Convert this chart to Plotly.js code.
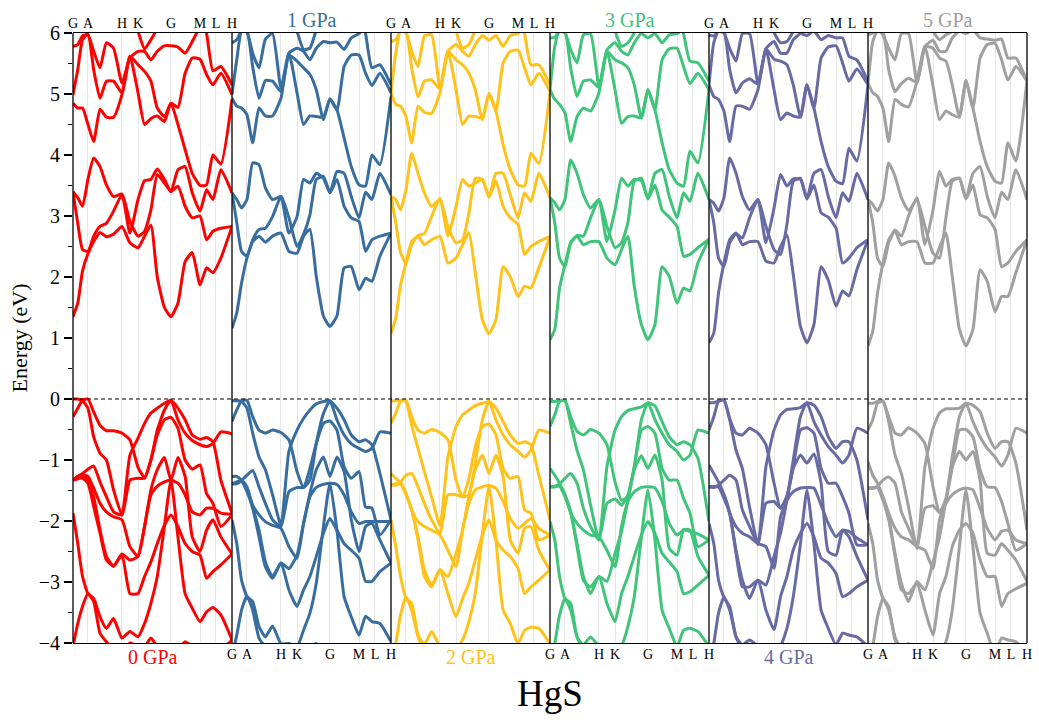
<!DOCTYPE html>
<html><head><meta charset="utf-8">
<script src="https://cdn.plot.ly/plotly-3.0.1.min.js"></script>
<style>html,body{margin:0;padding:0;background:#fff}</style></head>
<body><div id="chart"></div>
<script>
const kPath = [0,3,6,9.4,13,17,21,25.5,30.8,35.8,40.9,45,49,53,57.5,61.6,66,70.5,75,79.9,84,88,93,100];
const symK = [0,9.4,30.8,40.9,61.6,79.9,89.9,100];
const symLabels = ['G','A','H','K','G','M','L','H'];
const pressures = ['0 GPa','1 GPa','2 GPa','3 GPa','4 GPa','5 GPa'];
const colours = ['#ff0000','#386d9f','#ffc21a','#3fc47a','#686ba3','#a0a0a0'];
const off = 6.5, low = -4.3;

const c0 = [
[1.35,1.57,2.1,2.38,2.58,2.73,2.66,2.7,2.83,2.56,2.48,2.67,2.85,2.0,1.5,1.35,1.57,2.25,2.4,1.87,2.15,2.07,2.31,2.83],
[3.4,2.88,2.45,2.42,2.67,2.83,2.88,3.08,3.35,2.72,3.27,3.58,3.6,3.77,3.6,3.4,3.49,3.16,2.97,3.0,2.61,2.75,2.8,2.83],
[3.4,3.3,3.16,3.6,3.95,3.81,3.51,3.32,3.36,2.91,2.67,2.75,3.1,3.68,3.54,3.4,3.76,3.81,3.38,3.08,3.43,3.27,3.76,3.38],
[4.85,4.77,4.77,4.5,4.22,4.75,4.62,4.62,4.99,5.62,5.48,5.37,5.21,4.77,4.63,4.85,4.5,4.09,3.7,3.5,3.51,4.0,3.85,4.91],
[4.99,5.4,5.89,5.99,5.4,4.93,5.21,5.21,5.02,5.62,5.02,4.5,4.6,4.64,4.55,4.85,4.78,5.34,5.59,5.57,5.32,5.15,5.34,4.99],
[5.78,5.81,5.95,5.97,5.7,5.43,5.84,5.75,5.18,5.59,5.7,5.7,5.56,5.7,5.79,5.79,5.77,5.67,5.86,6.11,6.3,6.4,6.4,6.4],
[off,off,off,off,off,off,off,off,off,off,6.03,5.74,5.89,6.08,6.4,6.4,6.4,6.4,6.4,6.3,5.99,5.38,5.45,5.15]];
const v0 = [
[-0.0,-0.0,-0.03,-0.15,-0.62,-0.89,-1.0,-1.49,-1.9,-0.92,-0.64,-0.4,-0.23,-0.15,-0.07,-0.02,-0.15,-0.34,-0.59,-0.66,-0.63,-0.7,-1.33,-1.87],
[-0.29,-0.15,-0.02,0,-0.21,-0.43,-0.52,-0.52,-0.56,-0.67,-1.12,-1.29,-1.0,-0.51,-0.18,-0.02,-0.34,-0.56,-0.68,-0.75,-0.78,-0.73,-0.54,-0.57],
[-1.33,-1.27,-1.22,-1.15,-1.1,-1.36,-1.6,-1.85,-1.9,-1.33,-1.3,-1.3,-1.0,-0.59,-0.34,-0.3,-0.48,-1.0,-1.15,-1.08,-1.55,-1.71,-2.09,-1.9],
[-1.33,-1.31,-1.25,-1.27,-1.46,-1.71,-1.85,-1.93,-1.98,-2.42,-2.58,-2.09,-1.57,-1.43,-1.36,-1.33,-1.38,-1.57,-1.85,-1.9,-1.79,-1.79,-1.87,-1.89],
[-1.33,-1.27,-1.25,-1.33,-1.6,-2.15,-2.58,-2.74,-2.54,-2.64,-2.58,-2.09,-1.49,-1.16,-0.96,-1.33,-0.96,-1.27,-2.26,-2.5,-2.15,-1.98,-2.26,-2.54],
[-1.33,-1.3,-1.3,-1.38,-1.76,-2.2,-2.64,-2.74,-2.56,-3.19,-3.19,-2.91,-2.67,-2.37,-2.07,-1.9,-2.09,-2.37,-2.5,-2.56,-2.94,-2.83,-2.72,-2.54],
[-1.87,-2.37,-2.91,-3.19,-3.27,-3.57,-3.76,-3.6,-3.92,-3.81,-3.9,-3.68,-3.35,-2.91,-2.09,-1.33,-2.26,-3.19,-3.43,-3.65,-3.49,-3.42,-3.54,-3.95],
[-4.06,-3.68,-3.4,-3.19,-3.32,-3.84,-3.98,-4.11,-4.17,-4.0,-4.06,-4.06,-3.92,-4.06,-4.17,-4.17,-4.11,-3.98,-4.06,-4.17,-4.17,-4.11,-4.11,-3.95]];

const c1 = [
[1.16,1.41,1.9,2.31,2.58,2.67,2.57,2.67,2.72,2.42,2.39,2.67,2.78,2.01,1.36,1.19,1.36,2.15,2.17,1.79,1.98,1.93,2.34,2.72],
[3.38,2.89,2.42,2.34,2.61,2.78,2.8,2.99,3.32,2.72,2.99,3.6,3.54,3.7,3.62,3.38,3.6,3.16,2.97,2.91,2.42,2.61,2.67,2.72],
[3.38,3.27,3.13,3.27,3.87,3.84,3.46,3.27,3.32,2.97,2.5,2.7,3.02,3.6,3.65,3.38,3.73,3.7,3.32,2.97,3.39,3.27,3.7,3.35],
[4.93,4.8,4.77,4.66,4.2,4.77,4.64,4.64,4.93,5.64,5.54,5.43,5.32,5.07,4.58,4.92,4.74,4.28,3.81,3.51,3.49,4.0,3.84,4.96],
[4.99,5.56,6.03,6.03,5.45,4.93,5.22,5.21,5.04,5.67,5.02,4.5,4.64,4.63,4.62,4.92,4.74,5.45,5.64,5.64,5.34,5.14,5.34,5.02],
[5.84,5.89,6.03,6.01,5.67,5.43,5.9,5.99,5.1,5.67,5.75,5.7,5.56,5.75,5.86,5.84,5.85,5.73,5.92,5.99,6.11,6.22,6.22,6.22],
[off,off,off,off,off,off,off,off,off,off,6.03,5.73,5.75,6.05,6.4,6.4,6.4,6.4,6.4,6.4,5.99,5.43,5.48,5.15]];
const v1 = [
[-0.03,-0.03,-0.04,-0.15,-0.56,-0.95,-1.16,-1.57,-2.07,-0.86,-0.51,-0.32,-0.18,-0.08,-0.04,-0.03,-0.15,-0.34,-0.59,-0.7,-0.67,-0.75,-1.22,-1.98],
[-0.37,-0.18,-0.03,-0.02,-0.29,-0.51,-0.56,-0.51,-0.55,-0.67,-1.19,-1.45,-1.33,-0.73,-0.24,-0.03,-0.34,-0.59,-0.73,-0.81,-0.86,-0.81,-0.54,-0.56],
[-1.39,-1.38,-1.33,-1.25,-1.17,-1.44,-1.71,-1.98,-2.09,-1.52,-1.45,-1.45,-1.14,-0.73,-0.4,-0.36,-0.51,-1.11,-1.3,-1.19,-1.77,-1.79,-2.23,-1.98],
[-1.27,-1.27,-1.33,-1.46,-1.74,-1.9,-2.01,-2.07,-2.12,-2.42,-2.61,-2.04,-1.6,-1.45,-1.4,-1.38,-1.4,-1.57,-1.85,-2.04,-2.01,-2.01,-2.01,-2.01],
[-1.39,-1.36,-1.33,-1.44,-1.77,-2.15,-2.67,-2.91,-2.69,-2.78,-2.56,-2.04,-1.55,-1.16,-0.95,-1.27,-0.95,-1.19,-1.98,-2.5,-2.09,-2.04,-2.31,-2.69],
[-1.39,-1.39,-1.35,-1.52,-1.79,-2.26,-2.75,-2.94,-2.69,-3.13,-3.4,-3.13,-2.91,-2.58,-2.2,-1.96,-2.15,-2.37,-2.48,-2.61,-2.99,-2.99,-2.83,-2.69],
[-1.98,-2.37,-2.97,-3.24,-3.32,-3.73,-3.9,-3.72,-4.01,-4.01,-4.06,-3.79,-3.51,-3.02,-2.09,-1.38,-2.15,-3.24,-3.57,-3.87,-3.56,-3.65,-3.68,-3.98],
[-4.22,-3.87,-3.46,-3.23,-3.46,-3.92,-4.06,-4.17,-4.06,-4.01,-4.11,-4.11,-4.06,-4.01,-4.17,-4.22,-4.22,-4.11,-4.11,-4.11,-4.11,-4.11,-4.11,-4.06]];

const c2 = [
[1.07,1.33,1.87,2.23,2.58,2.67,2.53,2.61,2.67,2.23,2.31,2.53,2.73,2.07,1.3,1.07,1.3,2.17,2.01,1.68,1.85,1.82,2.15,2.66],
[3.32,2.89,2.4,2.23,2.53,2.68,2.71,2.99,3.29,2.67,3.16,3.6,3.49,3.54,3.6,3.31,3.57,3.16,2.97,2.86,2.37,2.5,2.58,2.66],
[3.32,3.27,3.1,3.43,4.03,3.7,3.38,3.16,3.27,2.83,2.56,2.61,3.05,3.62,3.6,3.31,3.7,3.7,3.35,2.97,3.38,3.24,3.7,3.3],
[5.02,4.83,4.8,4.63,4.2,4.8,4.7,4.68,5.02,5.7,5.56,5.48,5.34,5.07,4.58,5.01,4.72,4.17,3.76,3.51,3.49,4.03,3.86,5.02],
[5.02,5.67,6.05,6.03,5.43,4.95,5.21,5.23,5.08,5.7,5.07,4.5,4.64,4.63,4.61,5.01,4.72,5.51,5.7,5.72,5.43,5.15,5.34,5.04],
[5.86,5.89,6.03,6.0,5.7,5.45,5.95,5.97,5.1,5.7,5.81,5.7,5.62,5.81,5.96,5.88,5.96,5.78,5.96,5.99,6.16,6.22,6.22,6.22],
[off,off,off,off,off,off,off,off,off,off,6.03,5.75,5.81,6.05,6.4,6.4,6.4,6.4,6.4,6.4,5.99,5.48,5.48,5.15]];
const v2 = [
[-0.03,-0.03,-0.02,-0.04,-0.43,-0.81,-1.19,-1.6,-2.07,-0.95,-0.45,-0.26,-0.18,-0.11,-0.07,-0.04,-0.15,-0.37,-0.59,-0.73,-0.7,-0.75,-1.25,-1.98],
[-0.4,-0.23,-0.04,-0.02,-0.29,-0.51,-0.56,-0.5,-0.55,-0.67,-1.33,-1.6,-1.57,-1.05,-0.34,-0.04,-0.34,-0.59,-0.75,-0.86,-0.95,-0.84,-0.51,-0.56],
[-1.41,-1.41,-1.36,-1.25,-1.22,-1.44,-1.71,-1.98,-2.2,-1.57,-1.57,-1.6,-1.3,-0.78,-0.45,-0.41,-0.59,-1.14,-1.3,-1.27,-1.82,-1.87,-2.31,-2.23],
[-1.22,-1.3,-1.37,-1.55,-1.82,-2.01,-2.09,-2.15,-2.23,-2.48,-2.75,-2.15,-1.71,-1.49,-1.44,-1.42,-1.46,-1.68,-1.96,-2.12,-2.04,-1.96,-2.12,-2.23],
[-1.41,-1.39,-1.38,-1.55,-1.82,-2.26,-2.8,-3.05,-2.8,-2.91,-2.53,-2.15,-1.6,-1.16,-0.92,-1.22,-0.92,-1.27,-2.31,-2.53,-2.12,-2.09,-2.48,-2.81],
[-1.41,-1.41,-1.39,-1.57,-1.82,-2.31,-2.91,-3.08,-2.8,-3.19,-3.57,-3.27,-3.02,-2.64,-2.23,-1.98,-2.31,-2.48,-2.58,-2.78,-3.19,-3.08,-2.97,-2.8],
[-1.98,-2.42,-2.91,-3.27,-3.35,-3.87,-4.03,-3.81,-4.06,-4.17,-4.11,-3.95,-3.65,-3.19,-2.2,-1.44,-2.31,-3.46,-3.68,-4.01,-3.79,-3.74,-3.76,-4.01],
[-4.33,-4.01,-3.54,-3.24,-3.46,-3.9,-4.11,low,low,low,low,low,low,low,low,low,low,low,low,low,low,low,low,low]];

const c3 = [
[0.97,1.14,1.82,2.2,2.56,2.67,2.53,2.58,2.58,2.31,2.2,2.45,2.67,1.85,1.22,0.97,1.22,2.17,2.01,1.57,1.82,1.77,2.23,2.62],
[3.3,2.89,2.31,2.17,2.56,2.68,2.67,2.97,3.27,2.58,3.1,3.62,3.49,3.6,3.58,3.28,3.51,3.1,2.98,2.83,2.34,2.37,2.48,2.62],
[3.3,3.22,3.1,3.27,3.92,3.7,3.35,3.13,3.27,2.83,2.48,2.56,2.89,3.57,3.62,3.28,3.7,3.76,3.32,2.97,3.38,3.24,3.7,3.27],
[5.07,4.91,4.83,4.69,4.22,4.63,4.77,4.72,5.02,5.7,5.56,5.51,5.43,5.15,4.61,5.07,4.74,4.2,3.76,3.54,3.49,4.06,3.87,5.07],
[5.07,5.78,6.04,6.03,5.43,4.96,5.21,5.23,5.11,5.7,5.07,4.52,4.63,4.64,4.61,5.07,4.74,5.56,5.74,5.75,5.45,5.17,5.34,5.07],
[5.92,5.93,6.03,6.0,5.73,5.51,5.97,5.99,5.13,5.72,5.84,5.7,5.64,5.84,5.99,5.92,5.99,5.84,5.97,5.99,6.08,6.22,6.22,6.22],
[off,off,off,off,off,off,off,off,off,off,6.03,5.78,5.84,6.0,6.4,6.4,6.4,6.4,6.4,6.4,5.99,5.54,5.51,5.21]];
const v3 = [
[-0.04,-0.04,-0.03,-0.02,-0.4,-0.84,-1.16,-1.74,-2.31,-1.11,-0.51,-0.29,-0.19,-0.16,-0.13,-0.06,-0.11,-0.37,-0.62,-0.75,-0.7,-0.75,-0.97,-2.01],
[-0.45,-0.26,-0.04,-0.02,-0.29,-0.53,-0.59,-0.5,-0.56,-0.75,-1.36,-1.66,-1.6,-1.11,-0.34,-0.06,-0.34,-0.56,-0.75,-0.86,-1.0,-0.92,-0.51,-0.56],
[-1.44,-1.44,-1.39,-1.3,-1.22,-1.38,-1.79,-2.09,-2.31,-1.71,-1.64,-1.74,-1.57,-1.11,-0.51,-0.45,-0.56,-1.14,-1.33,-1.33,-1.63,-1.87,-2.42,-2.31],
[-1.14,-1.25,-1.38,-1.57,-1.87,-2.04,-2.15,-2.23,-2.26,-2.48,-2.75,-2.09,-1.68,-1.52,-1.45,-1.44,-1.46,-1.68,-2.04,-2.23,-2.15,-2.17,-2.21,-2.31],
[-1.44,-1.43,-1.41,-1.57,-1.85,-2.37,-2.91,-3.19,-2.91,-2.99,-2.53,-2.17,-1.66,-1.16,-0.93,-1.14,-0.92,-1.33,-2.45,-2.56,-2.14,-2.15,-2.58,-2.89],
[-1.44,-1.44,-1.43,-1.6,-1.85,-2.42,-2.97,-3.08,-2.91,-3.35,-3.65,-3.19,-2.91,-2.58,-2.23,-2.01,-2.2,-2.53,-2.67,-2.83,-3.19,-3.16,-3.05,-2.89],
[-2.01,-2.31,-2.91,-3.27,-3.35,-3.9,-4.03,-3.9,-4.06,-4.22,-4.28,-4.06,-3.73,-3.24,-2.26,-1.49,-2.31,-3.46,-3.76,-4.06,-3.79,-3.76,-3.81,-4.06],
[-4.33,-4.01,-3.54,-3.27,-3.46,-3.9,-4.11,low,low,low,low,low,low,low,low,low,low,low,low,low,low,low,low,low]];

const c4 = [
[0.92,1.08,1.74,2.23,2.61,2.72,2.53,2.58,2.58,2.26,2.23,2.5,2.69,2.04,1.19,0.92,1.22,2.17,1.95,1.52,1.77,1.69,2.12,2.61],
[3.27,2.89,2.31,2.17,2.56,2.71,2.64,2.97,3.27,2.56,3.13,3.68,3.49,3.61,3.6,3.28,3.51,3.05,2.98,2.8,2.23,2.31,2.48,2.61],
[3.27,3.21,3.08,3.3,3.95,3.7,3.32,3.1,3.27,2.83,2.45,2.37,2.86,3.57,3.62,3.28,3.7,3.76,3.32,2.97,3.38,3.24,3.7,3.27],
[5.15,4.96,4.91,4.72,4.22,4.8,4.8,4.75,5.07,5.74,5.57,5.54,5.48,5.15,4.63,5.15,4.77,4.22,3.81,3.57,3.53,4.11,3.9,5.15],
[5.15,5.84,6.04,6.03,5.4,5.02,5.18,5.25,5.16,5.74,5.07,4.58,4.69,4.64,4.62,5.15,4.77,5.59,5.77,5.79,5.51,5.21,5.41,5.15],
[5.97,5.95,6.03,6.0,5.75,5.54,5.99,5.99,5.17,5.74,5.86,5.67,5.67,5.89,5.99,5.96,6.03,5.89,5.96,5.92,5.92,5.62,5.56,5.21],
[off,off,off,off,off,off,off,off,off,off,6.01,5.84,5.86,6.03,6.4,6.4,6.4,6.4,6.4,6.4,6.4,6.4,6.4,6.4]];
const v4 = [
[-0.06,-0.06,-0.03,-0.01,-0.34,-0.84,-1.14,-1.77,-2.39,-1.11,-0.51,-0.26,-0.17,-0.16,-0.14,-0.06,-0.1,-0.29,-0.62,-0.81,-0.7,-0.7,-1.0,-1.98],
[-0.51,-0.29,-0.04,-0.02,-0.32,-0.56,-0.59,-0.48,-0.56,-0.75,-1.38,-1.79,-1.6,-1.0,-0.29,-0.06,-0.37,-0.59,-0.78,-0.92,-1.05,-0.92,-0.48,-0.56],
[-1.44,-1.45,-1.41,-1.33,-1.25,-1.33,-1.82,-2.09,-2.37,-1.71,-1.68,-1.79,-1.6,-1.11,-0.51,-0.47,-0.56,-1.14,-1.38,-1.38,-1.6,-1.87,-2.39,-2.39],
[-1.08,-1.22,-1.36,-1.57,-1.87,-2.09,-2.2,-2.26,-2.37,-2.42,-2.78,-1.93,-1.66,-1.52,-1.46,-1.45,-1.46,-1.74,-2.04,-2.26,-2.15,-2.17,-2.28,-2.39],
[-1.44,-1.44,-1.44,-1.57,-1.87,-2.48,-2.97,-3.27,-2.97,-3.05,-2.58,-2.2,-1.66,-1.14,-0.92,-1.05,-0.9,-1.38,-2.5,-2.56,-2.15,-2.26,-2.58,-2.97],
[-1.44,-1.44,-1.44,-1.63,-1.87,-2.53,-3.08,-3.08,-2.97,-3.46,-3.78,-3.24,-2.91,-2.47,-2.2,-2.04,-2.26,-2.61,-2.69,-2.86,-3.24,-3.19,-3.08,-2.97],
[-2.04,-2.37,-2.97,-3.25,-3.4,-3.9,-4.03,-3.95,-4.06,-4.22,-4.28,-4.06,-3.76,-3.24,-2.37,-1.49,-2.37,-3.46,-3.76,-4.03,-3.84,-3.87,-3.9,-4.06],
[-4.39,-4.01,-3.51,-3.25,-3.46,-3.9,-4.11,low,low,low,low,low,low,low,low,low,low,low,low,low,low,low,low,low]];

const c5 = [
[0.87,1.11,1.74,2.23,2.61,2.75,2.53,2.58,2.58,2.23,2.23,2.49,2.72,2.01,1.14,0.87,1.14,2.12,1.93,1.43,1.68,1.68,2.07,2.61],
[3.27,2.89,2.31,2.17,2.56,2.77,2.67,3.0,3.3,2.53,3.1,3.73,3.49,3.6,3.62,3.28,3.51,3.02,2.97,2.78,2.17,2.23,2.42,2.61],
[3.27,3.19,3.08,3.27,3.87,3.65,3.3,3.09,3.27,2.83,2.39,2.31,2.97,3.57,3.62,3.28,3.7,3.81,3.32,2.97,3.39,3.27,3.76,3.27],
[5.18,5.02,4.96,4.77,4.22,4.91,4.83,4.79,5.21,5.78,5.75,5.59,5.54,5.15,4.63,5.22,4.77,4.22,3.81,3.57,3.54,4.2,3.9,5.22],
[5.18,5.86,6.04,6.03,5.4,5.04,5.17,5.26,5.19,5.78,5.13,4.58,4.72,4.66,4.62,5.22,4.77,5.59,5.81,5.83,5.56,5.23,5.45,5.21],
[5.97,6.0,6.05,5.97,5.75,5.56,5.99,5.99,5.19,5.78,5.88,5.7,5.7,5.92,6.03,5.99,6.05,5.92,5.9,5.88,5.9,5.59,5.59,5.21],
[off,off,off,off,off,off,off,off,off,off,6.03,5.89,5.97,6.03,6.4,6.4,6.4,6.4,6.4,6.4,6.4,6.4,6.4,6.4]];
const v5 = [
[-0.07,-0.07,-0.04,-0.03,-0.37,-0.92,-1.22,-1.77,-2.45,-1.11,-0.48,-0.23,-0.16,-0.16,-0.15,-0.07,-0.1,-0.21,-0.56,-0.81,-0.7,-0.7,-1.05,-2.15],
[-0.51,-0.34,-0.07,-0.04,-0.29,-0.56,-0.59,-0.47,-0.56,-0.73,-1.44,-1.87,-1.63,-0.95,-0.29,-0.07,-0.37,-0.62,-0.81,-0.95,-1.1,-0.92,-0.48,-0.56],
[-1.46,-1.46,-1.43,-1.33,-1.28,-1.38,-1.85,-2.12,-2.42,-1.79,-1.75,-1.86,-1.66,-1.11,-0.51,-0.5,-0.62,-1.16,-1.44,-1.45,-1.68,-2.04,-2.48,-2.37],
[-1.03,-1.25,-1.38,-1.6,-1.87,-2.12,-2.26,-2.31,-2.42,-2.48,-2.78,-1.98,-1.71,-1.57,-1.49,-1.46,-1.49,-1.79,-2.12,-2.31,-2.17,-2.15,-2.31,-2.37],
[-1.46,-1.46,-1.45,-1.63,-1.93,-2.53,-3.02,-3.32,-2.99,-3.13,-2.67,-2.26,-1.66,-1.11,-0.86,-1.0,-0.86,-1.33,-2.53,-2.56,-2.37,-2.48,-2.64,-2.99],
[-1.46,-1.46,-1.45,-1.66,-1.98,-2.58,-3.13,-3.19,-3.02,-3.46,-3.87,-3.19,-2.91,-2.42,-2.15,-2.04,-2.2,-2.64,-2.91,-2.91,-3.4,-3.19,-3.11,-3.02],
[-2.04,-2.37,-2.97,-3.27,-3.4,-3.95,-4.11,-4.01,-4.22,-4.33,-4.33,-4.17,-3.98,-3.46,-2.42,-1.49,-2.42,-3.51,-3.84,-4.19,-3.92,-3.95,-3.98,-4.22],
[-4.44,-4.06,-3.57,-3.27,-3.46,-3.9,-4.11,low,low,low,low,low,low,low,low,low,low,low,low,low,low,low,low,low]];

const panels = [[c0,v0],[c1,v1],[c2,v2],[c3,v3],[c4,v4],[c5,v5]];
const serif = '"Liberation Serif","Times New Roman",serif';
const W = 1039, H = 720, L = 73, R = 1027, T = 33, B = 643;
const traces = [];
const layout = {
  width: W, height: H, autosize: false,
  margin: {l: L, r: W - R, t: T, b: H - B, pad: 0},
  paper_bgcolor: '#fff', plot_bgcolor: '#fff', showlegend: false,
  font: {family: serif, color: '#000'},
  yaxis: {range: [-4, 6], tickmode: 'array', tickvals: [-4,-3,-2,-1,0,1,2,3,4,5,6],
    ticks: 'outside', ticklen: 8, tickwidth: 1.3, tickcolor: '#000', showgrid: false, zeroline: false,
    showline: false, tickfont: {family: serif, size: 20, color: '#000'},
    minor: {tickvals: [-3.5,-2.5,-1.5,-0.5,0.5,1.5,2.5,3.5,4.5,5.5], ticks: 'outside', ticklen: 4, tickwidth: 1.3, tickcolor: '#000', showgrid: false},
    title: {text: 'Energy (eV)', font: {family: serif, size: 22, color: '#000'}, standoff: 5}},
  shapes: [], annotations: []
};
panels.forEach((p, i) => {
  const ax = i === 0 ? 'x' : 'x' + (i + 1), key = i === 0 ? 'xaxis' : 'xaxis' + (i + 1);
  [...p[0], ...p[1]].forEach(band => traces.push({
    x: kPath, y: band, xaxis: ax, yaxis: 'y', mode: 'lines', hoverinfo: 'skip',
    line: {color: colours[i], width: 3, shape: 'spline', smoothing: 0.5}
  }));
  const top = i % 2 === 0;
  layout[key] = {
    domain: [i / 6, (i + 1) / 6], range: [0, 100], anchor: 'y', side: top ? 'top' : 'bottom',
    tickmode: 'array', tickvals: symK, ticktext: symLabels, ticks: '', ticklen: 0, ticklabelstandoff: -2,
    showgrid: true, gridcolor: '#e6e6e6', gridwidth: 1, zeroline: false,
    showline: true, mirror: true, linecolor: '#000', linewidth: 1.3,
    tickfont: {family: serif, size: 14, color: '#000'}, automargin: false
  };
  layout.shapes.push({type: 'line', xref: 'paper', yref: 'paper', x0: i / 6, x1: i / 6, y0: 0, y1: 1,
    line: {color: '#000', width: 1.3}, layer: 'above'});
  layout.annotations.push({text: pressures[i], xref: 'paper', yref: 'paper', x: (i + 0.5) / 6,
    y: top ? 0 : 1, yshift: top ? -14 : 13, xanchor: 'center', yanchor: 'middle', showarrow: false,
    font: {family: serif, size: 20, color: colours[i]}});
});
layout.shapes.push({type: 'line', xref: 'paper', yref: 'paper', x0: 1, x1: 1, y0: 0, y1: 1, line: {color: '#000', width: 1.3}, layer: 'above'});
layout.shapes.push({type: 'line', xref: 'paper', yref: 'y', x0: 0, x1: 1, y0: 0, y1: 0, line: {color: '#000', width: 1.2, dash: '4px,3px'}, layer: 'above'});
layout.annotations.push({text: 'HgS', xref: 'paper', yref: 'paper', x: (550 - L) / (R - L), y: 0, yshift: -50,
  xanchor: 'center', yanchor: 'middle', showarrow: false, font: {family: serif, size: 37, color: '#000'}});
Plotly.newPlot('chart', traces, layout, {displayModeBar: false, staticPlot: true});
</script></body></html>
